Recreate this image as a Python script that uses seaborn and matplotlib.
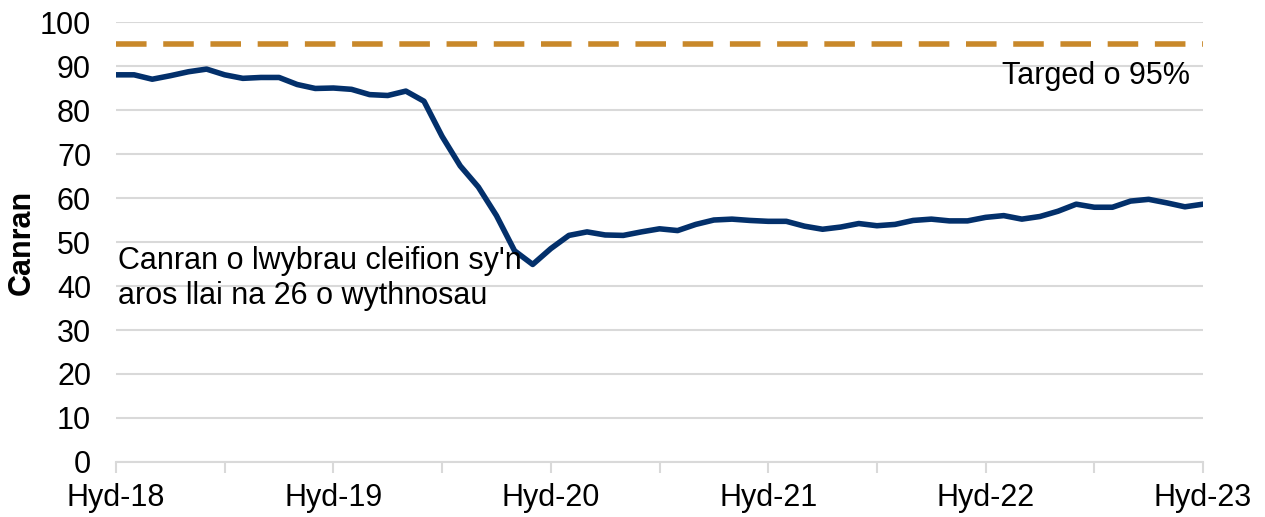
import numpy as np
import pandas as pd
import seaborn as sns
import matplotlib.pyplot as plt

# Monthly values, Oct 2018 to Oct 2023
canran = [88.0, 88.0, 87.0, 87.8, 88.7, 89.3, 88.0, 87.2, 87.4, 87.4,
          85.8, 84.9, 85.0, 84.7, 83.5, 83.3, 84.3, 82.0, 74.0, 67.3,
          62.5, 56.0, 48.0, 44.9, 48.5, 51.5, 52.3, 51.6, 51.5, 52.3,
          53.0, 52.6, 54.0, 55.0, 55.2, 54.9, 54.7, 54.7, 53.6, 52.9,
          53.4, 54.2, 53.7, 54.0, 54.9, 55.2, 54.8, 54.8, 55.6, 56.0,
          55.2, 55.8, 57.0, 58.6, 57.9, 57.9, 59.3, 59.7, 58.9, 58.0, 58.6]
targed = 95
tick_labels = ['Hyd-18', 'Hyd-19', 'Hyd-20', 'Hyd-21', 'Hyd-22', 'Hyd-23']

df = pd.DataFrame({'mis': np.arange(len(canran)), 'canran': canran})

sns.set_style('white', {'xtick.bottom': True, 'text.color': 'black',
                        'xtick.color': 'black', 'ytick.color': 'black',
                        'axes.labelcolor': 'black'})
plt.rcParams['font.family'] = ['Liberation Sans', 'DejaVu Sans']

fig = plt.figure(figsize=(12.65, 5.17), dpi=100)
ax = fig.add_axes([0.0917, 0.1064, 0.8593, 0.851])

ax.yaxis.grid(True, color='#D9D9D9', linewidth=1.5)
ax.set_axisbelow(True)

ax.axhline(targed, color='#C8882A', linewidth=4, dashes=(5.5, 3), zorder=2)
sns.lineplot(data=df, x='mis', y='canran', ax=ax, color='#03306B', linewidth=4,
             solid_capstyle='round', zorder=3)

ax.set_xlim(0, len(canran) - 1)
ax.set_ylim(0, 100)
ax.set_yticks(range(0, 101, 10))
ax.set_xticks(range(0, len(canran), 6))
ax.set_xticklabels([tick_labels[i // 2] if i % 2 == 0 else '' for i in range(11)])

for s in ['top', 'right', 'left']:
    ax.spines[s].set_visible(False)
ax.spines['bottom'].set_color('#D9D9D9')
ax.spines['bottom'].set_linewidth(1.5)
ax.tick_params(axis='x', length=8, width=1.5, color='#D9D9D9', labelcolor='black',
               labelsize=22, pad=7)
ax.tick_params(axis='y', length=0, labelsize=22, labelcolor='black', pad=18)

ax.set_xlabel('')
ax.set_ylabel('Canran', fontsize=22, fontweight='bold', labelpad=2, color='black')

ax.text(59.3, 87.8, 'Targed o 95%', fontsize=22, ha='right', va='center', color='black')
ax.text(0.1, 49.0, "Canran o lwybrau cleifion sy'n\naros llai na 26 o wythnosau",
        fontsize=22, ha='left', va='top', linespacing=1.2, color='black')

fig.savefig('out.png', dpi=100)
